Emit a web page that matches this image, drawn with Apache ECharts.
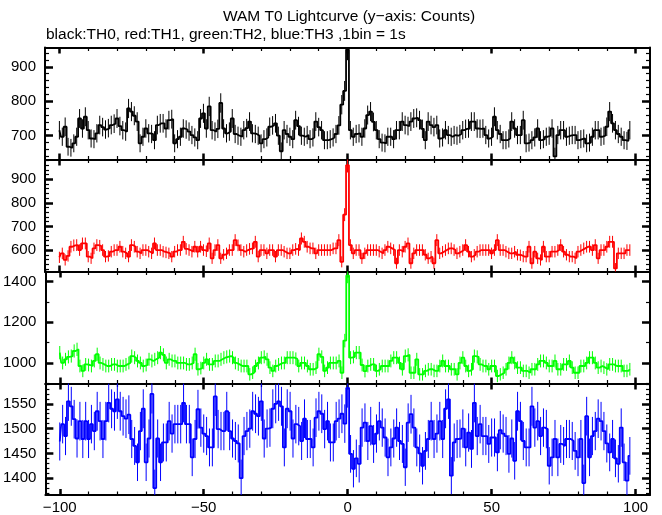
<!DOCTYPE html>
<html><head><meta charset="utf-8">
<script src="https://cdn.jsdelivr.net/npm/echarts@6/dist/echarts.min.js"></script>
<style>html,body{margin:0;padding:0;background:#fff}#c{width:662px;height:515px}</style>
</head><body><div id="c"></div>
<script>
// time of the first 1-s bin centre (s, relative to T0)
const firstBin = -100;

const th0 = [
716,697,726,668,665,678,697,750,721,755,
716,692,690,707,731,725,718,722,731,735,
750,728,716,712,779,770,758,741,678,697,
721,707,705,687,731,736,736,721,745,748,
678,690,697,721,718,712,702,695,687,750,
765,721,785,716,712,720,795,721,707,712,
750,705,700,697,716,722,741,707,705,700,
678,690,695,726,730,736,700,655,716,705,
697,690,745,728,700,697,702,690,695,741,
725,716,687,687,690,695,705,730,790,830,
950,716,697,705,707,697,721,760,770,740,
716,690,680,678,697,697,690,716,716,741,
731,728,741,750,752,745,720,687,741,731,
725,731,692,695,716,702,697,702,700,705,
716,720,721,741,741,721,720,721,702,692,
697,755,716,705,687,687,692,741,721,702,
702,745,678,680,687,695,721,687,690,697,
700,721,640,702,716,716,697,700,702,702,
687,690,692,678,680,697,716,716,697,700,
726,770,736,716,705,697,687,685,716];

const th1 = [
569,586,558,575,614,620,621,600,628,628,
572,565,607,621,618,600,572,575,593,600,
600,614,593,586,572,621,614,593,586,600,
600,593,586,628,600,600,593,590,586,572,
593,600,600,635,605,600,593,614,593,614,
600,595,628,565,600,621,565,580,586,600,
600,642,620,600,593,600,605,607,635,572,
600,600,586,600,600,572,600,600,593,586,
586,600,605,600,649,635,614,607,607,586,
600,600,600,600,600,607,607,642,550,750,
960,621,586,600,600,565,586,600,600,600,
600,593,586,600,614,607,600,544,600,593,
614,628,544,586,600,600,600,580,565,572,
544,642,586,593,600,607,607,600,586,593,
600,621,593,572,580,593,600,600,600,600,
586,600,642,600,600,593,586,586,593,580,
578,572,572,614,544,593,565,558,614,572,
572,593,593,600,621,593,580,572,572,565,
593,600,607,614,614,600,621,565,600,600,
614,635,635,522,586,586,586,600,600];

const th2 = [
1051,1000,1018,1030,1034,1059,1067,985,961,993,
990,985,1010,1043,1000,993,985,985,993,993,
985,985,985,993,1000,1034,1026,1010,1000,985,
990,1018,1010,1018,1026,1051,1040,1000,1018,1010,
1010,1000,1000,1000,993,993,1000,1043,969,975,
1000,1018,993,993,1010,1010,1018,1026,1030,1034,
1026,1000,993,985,985,985,944,952,985,1000,
1026,1030,1018,977,961,985,993,1000,1000,1026,
1026,1026,1020,985,1000,1000,985,969,969,977,
1043,1030,961,977,1000,1000,1000,1010,952,1110,
1430,1026,1030,1051,1051,990,960,985,993,993,
961,969,985,985,985,1010,1026,1026,1000,969,
1034,1040,952,952,1018,944,944,961,969,969,
961,961,985,1010,985,985,969,969,944,1000,
1026,985,961,969,1034,1030,993,985,985,969,
985,985,936,944,952,969,1000,1026,1000,977,
977,961,961,952,969,969,993,1010,1010,1000,
985,985,1010,969,969,993,993,1010,977,952,
952,985,985,1000,1026,1026,1000,977,985,977,
969,993,993,985,985,985,961,961,969];

const th3 = [
1474,1509,1485,1555,1545,1519,1480,1515,1479,1515,
1479,1509,1495,1535,1515,1479,1515,1552,1540,1535,
1559,1535,1525,1520,1528,1479,1465,1432,1495,1540,
1432,1480,1570,1380,1480,1432,1472,1472,1515,1490,
1509,1509,1509,1552,1509,1509,1442,1479,1539,1502,
1490,1485,1462,1462,1565,1499,1495,1495,1535,1495,
1480,1475,1470,1400,1485,1495,1500,1535,1530,1525,
1555,1480,1500,1502,1540,1550,1555,1545,1462,1540,
1535,1480,1509,1505,1475,1520,1479,1479,1462,1522,
1535,1530,1499,1515,1472,1472,1515,1520,1530,1510,
1582,1449,1419,1440,1429,1502,1512,1475,1505,1469,
1490,1515,1502,1482,1442,1462,1480,1502,1475,1469,
1422,1512,1529,1502,1462,1450,1425,1455,1479,1515,
1479,1490,1515,1479,1540,1559,1405,1472,1479,1480,
1500,1462,1492,1459,1552,1485,1509,1485,1485,1469,
1482,1482,1452,1497,1490,1485,1449,1480,1435,1535,
1515,1475,1462,1462,1545,1502,1515,1485,1502,1499,
1425,1442,1479,1442,1469,1465,1479,1479,1475,1455,
1442,1479,1390,1525,1442,1485,1495,1520,1515,1495,
1470,1452,1479,1440,1429,1502,1432,1395,1445];

// axis scales and tick labels
const xRange = [-105, 105];
const xMajor = [-100, -50, 0, 50, 100];
const xMinor = [-100,-90,-80,-70,-60,-50,-40,-30,-20,-10,0,10,20,30,40,50,60,70,80,90,100];
const yRanges = [[631, 956], [509, 984], [899, 1450], [1366, 1591]];
const yMajors = [[700, 800, 900], [600, 700, 800, 900], [1000, 1200, 1400], [1400, 1450, 1500, 1550]];
const yMinorSteps = [20, 20, 100, 10];
const seriesData = [th0, th1, th2, th3];
const seriesNames = ['TH0', 'TH1', 'TH2', 'TH3'];
const colors = ['#000000', '#ff0000', '#00ff00', '#0000ff'];

const titleText = 'WAM T0 Lightcurve (y\u2212axis: Counts)';
const subText = 'black:TH0, red:TH1, green:TH2, blue:TH3 ,1bin = 1s';

const FONT = '"Liberation Sans", Arial, Helvetica, sans-serif';
const gridTops = [47.5, 159.5, 271.5, 383.5];
const gridH = 112;
const fmt = v => String(v).replace('-', '\u2212');

const grids = [], xAxes = [], yAxes = [], series = [];
for (let p = 0; p < 4; p++) {
  grids.push({left: 45, right: 12, top: gridTops[p], height: gridH});
  const minorY = [];
  for (let v = Math.ceil(yRanges[p][0] / yMinorSteps[p]) * yMinorSteps[p]; v <= yRanges[p][1]; v += yMinorSteps[p]) minorY.push(v);
  const xBase = {type: 'value', gridIndex: p, min: xRange[0], max: xRange[1], splitLine: {show: false}};
  const yBase = {type: 'value', gridIndex: p, min: yRanges[p][0], max: yRanges[p][1], splitLine: {show: false}, scale: true};
  const line = {show: true, onZero: false, lineStyle: {color: '#000', width: 2}};
  const noLine = {show: false, onZero: false};
  ['bottom', 'top'].forEach(pos => {
    xAxes.push(Object.assign({}, xBase, {
      position: pos, axisLine: line,
      axisTick: {show: true, inside: true, length: 6, customValues: xMajor, lineStyle: {color: '#000', width: 2.5}},
      axisLabel: (p === 3 && pos === 'bottom') ? {show: true, customValues: xMajor, formatter: fmt, color: '#000', fontSize: 15, fontFamily: FONT, margin: 5} : {show: false}
    }));
    xAxes.push(Object.assign({}, xBase, {
      position: pos, axisLine: noLine,
      axisTick: {show: true, inside: true, length: 3.5, customValues: xMinor, lineStyle: {color: '#000', width: 1.2}},
      axisLabel: {show: false}
    }));
  });
  ['left', 'right'].forEach(pos => {
    yAxes.push(Object.assign({}, yBase, {
      position: pos, axisLine: line,
      axisTick: {show: true, inside: true, length: 8, customValues: yMajors[p], lineStyle: {color: '#000', width: 2.5}},
      axisLabel: pos === 'left' ? {show: true, customValues: yMajors[p], formatter: fmt, color: '#000', fontSize: 15, fontFamily: FONT, margin: 9} : {show: false}
    }));
    yAxes.push(Object.assign({}, yBase, {
      position: pos, axisLine: noLine,
      axisTick: {show: true, inside: true, length: 4, customValues: minorY, lineStyle: {color: '#000', width: 1.2}},
      axisLabel: {show: false}
    }));
  });
  const pts = seriesData[p].map((v, i) => [firstBin + i, v]);
  const col = colors[p];
  series.push({
    name: seriesNames[p] + ' err', type: 'custom', xAxisIndex: p * 4, yAxisIndex: p * 4, clip: true,
    data: pts, silent: true,
    renderItem: (params, api) => {
      const x = api.value(0), y = api.value(1), e = Math.sqrt(y);
      const a = api.coord([x, y - e]), b = api.coord([x, y + e]);
      return {type: 'line', shape: {x1: a[0], y1: a[1], x2: b[0], y2: b[1]}, style: {stroke: col, lineWidth: 1}};
    }
  });
  series.push({
    name: seriesNames[p], type: 'line', step: 'middle', xAxisIndex: p * 4, yAxisIndex: p * 4,
    data: pts, showSymbol: false, symbol: 'none', silent: true,
    lineStyle: {color: col, width: 1.8}, animation: false
  });
}

const chart = echarts.init(document.getElementById('c'), null, {renderer: 'canvas'});
chart.setOption({
  animation: false,
  backgroundColor: '#ffffff',
  grid: grids, xAxis: xAxes, yAxis: yAxes, series: series,
  graphic: [
    {type: 'text', x: 349, y: 17, style: {text: titleText, font: '15.5px ' + FONT, fill: '#000', align: 'center', verticalAlign: 'middle'}},
    {type: 'text', x: 46, y: 35, style: {text: subText, font: '15.5px ' + FONT, fill: '#000', align: 'left', verticalAlign: 'middle'}}
  ]
});
</script></body></html>
